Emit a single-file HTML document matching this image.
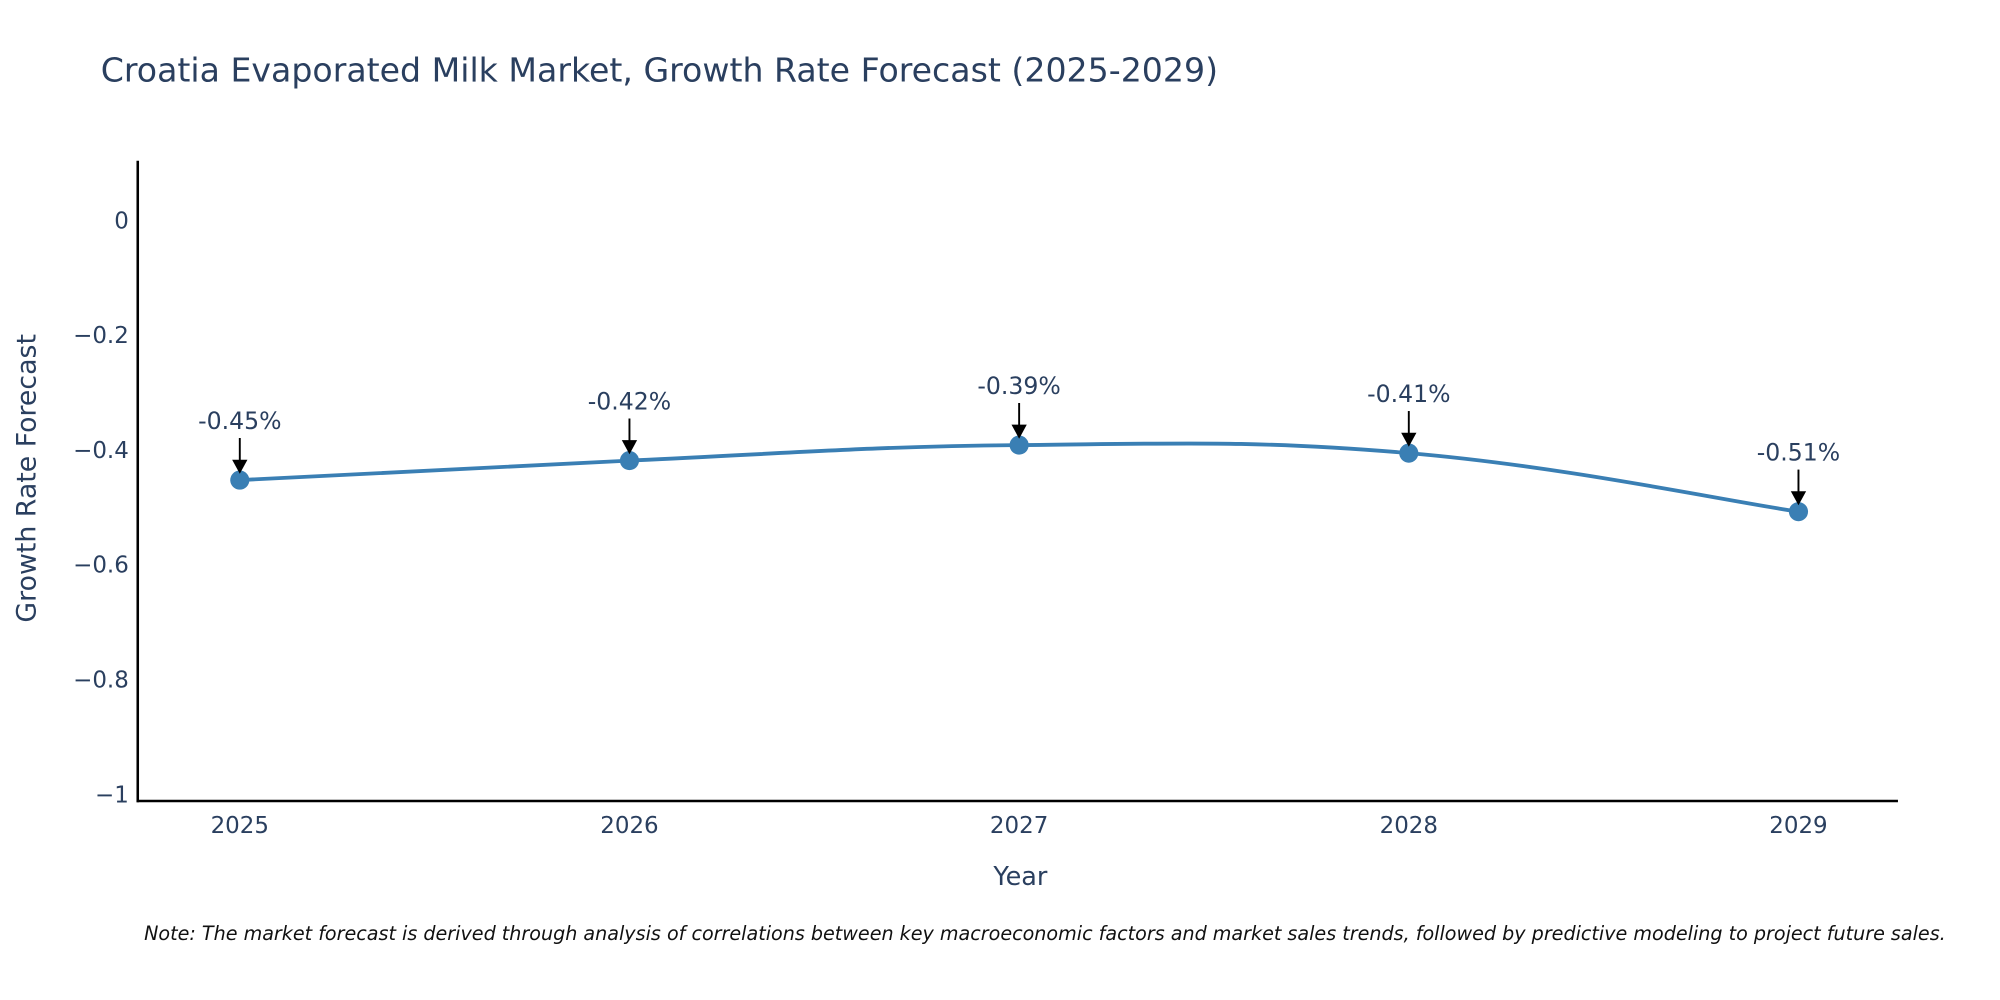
<!DOCTYPE html>
<html><head><meta charset="utf-8"><style>
html,body{margin:0;padding:0;background:#fff;overflow:hidden;}
svg{display:block;font-family:"DejaVu Sans","Liberation Sans",sans-serif;}
</style></head><body>
<svg id="chart" width="2000" height="1000" viewBox="0 0 1568 784" preserveAspectRatio="none" xmlns="http://www.w3.org/2000/svg">
<rect width="1568" height="784" fill="#fff"/>
<text x="79" y="64" font-size="26" fill="#2a3f5f">Croatia Evaporated Milk Market, Growth Rate Forecast (2025-2029)</text>
<g id="yticks"></g>
<g id="xticks"></g>
<line x1="108" y1="126" x2="108" y2="629" stroke="#000" stroke-width="2"/>
<line x1="107" y1="628" x2="1488" y2="628" stroke="#000" stroke-width="2"/>
<path id="line" fill="none" stroke="#3a7fb4" stroke-width="3"/>
<g id="marks"></g>
<g id="annots"></g>
<text transform="translate(28,375) rotate(-90)" text-anchor="middle" font-size="21" fill="#2a3f5f">Growth Rate Forecast</text>
<text x="800" y="694" text-anchor="middle" font-size="20" fill="#2a3f5f">Year</text>
<text x="113" y="737" font-size="15" font-style="italic" fill="#111">Note: The market forecast is derived through analysis of correlations between key macroeconomic factors and market sales trends, followed by predictive modeling to project future sales.</text>
</svg>
<script>
const years = [2025, 2026, 2027, 2028, 2029];
const values = [-0.452, -0.418, -0.391, -0.405, -0.507];
const labels = ["-0.45%", "-0.42%", "-0.39%", "-0.41%", "-0.51%"];
const yTickValues = [0, -0.2, -0.4, -0.6, -0.8, -1];
const yTickLabels = ["0", "\u22120.2", "\u22120.4", "\u22120.6", "\u22120.8", "\u22121"];

const NS = "http://www.w3.org/2000/svg";
function xs(v){ return 188 + (v - 2025) * 305.5; }
function ys(v){ return 173 - v * 450; }
function mk(tag, attrs, parent){ const e = document.createElementNS(NS, tag); for (const k in attrs) e.setAttribute(k, attrs[k]); parent.appendChild(e); return e; }

const yt = document.getElementById('yticks');
yTickValues.forEach((v, i) => {
  const t = mk('text', {x: 101, y: ys(v) + 6, 'text-anchor': 'end', 'font-size': 18, fill: '#2a3f5f'}, yt);
  
  
  t.textContent = yTickLabels[i];
});
const xt = document.getElementById('xticks');
years.forEach(y => {
  const t = mk('text', {x: xs(y), y: 653, 'text-anchor': 'middle', 'font-size': 18, fill: '#2a3f5f'}, xt);
  
  
  t.textContent = String(y);
});

const pts = years.map((y, i) => [xs(y), ys(values[i])]);
let d = `M${pts[0][0]},${pts[0][1]}`;
const s = 0.2;
for (let i = 0; i < pts.length - 1; i++) {
  const p0 = pts[Math.max(0, i - 1)], p1 = pts[i], p2 = pts[i + 1], p3 = pts[Math.min(pts.length - 1, i + 2)];
  const c1 = [p1[0] + (p2[0] - p0[0]) * s, p1[1] + (p2[1] - p0[1]) * s];
  const c2 = [p2[0] - (p3[0] - p1[0]) * s, p2[1] - (p3[1] - p1[1]) * s];
  d += ` C${c1[0]},${c1[1]} ${c2[0]},${c2[1]} ${p2[0]},${p2[1]}`;
}
document.getElementById('line').setAttribute('d', d);

const mg = document.getElementById('marks');
const ag = document.getElementById('annots');
pts.forEach((p, i) => {
  const c = mk('circle', {cx: p[0], cy: p[1], r: 7.5, fill: '#3a7fb4'}, mg);
  
  
  const l = mk('line', {x1: p[0], y1: p[1] - 33, x2: p[0], y2: p[1] - 14, stroke: '#000', 'stroke-width': 1.5}, ag);
  
  
  const tri = mk('path', {d: `M${p[0]-6},${p[1]-16} L${p[0]+6},${p[1]-16} L${p[0]},${p[1]-5} Z`, fill: '#000'}, ag);
  
  
  const t = mk('text', {x: p[0], y: p[1] - 40, 'text-anchor': 'middle', 'font-size': 18.5, fill: '#2a3f5f'}, ag);
  
  
  t.textContent = labels[i];
});
</script>
</body></html>
